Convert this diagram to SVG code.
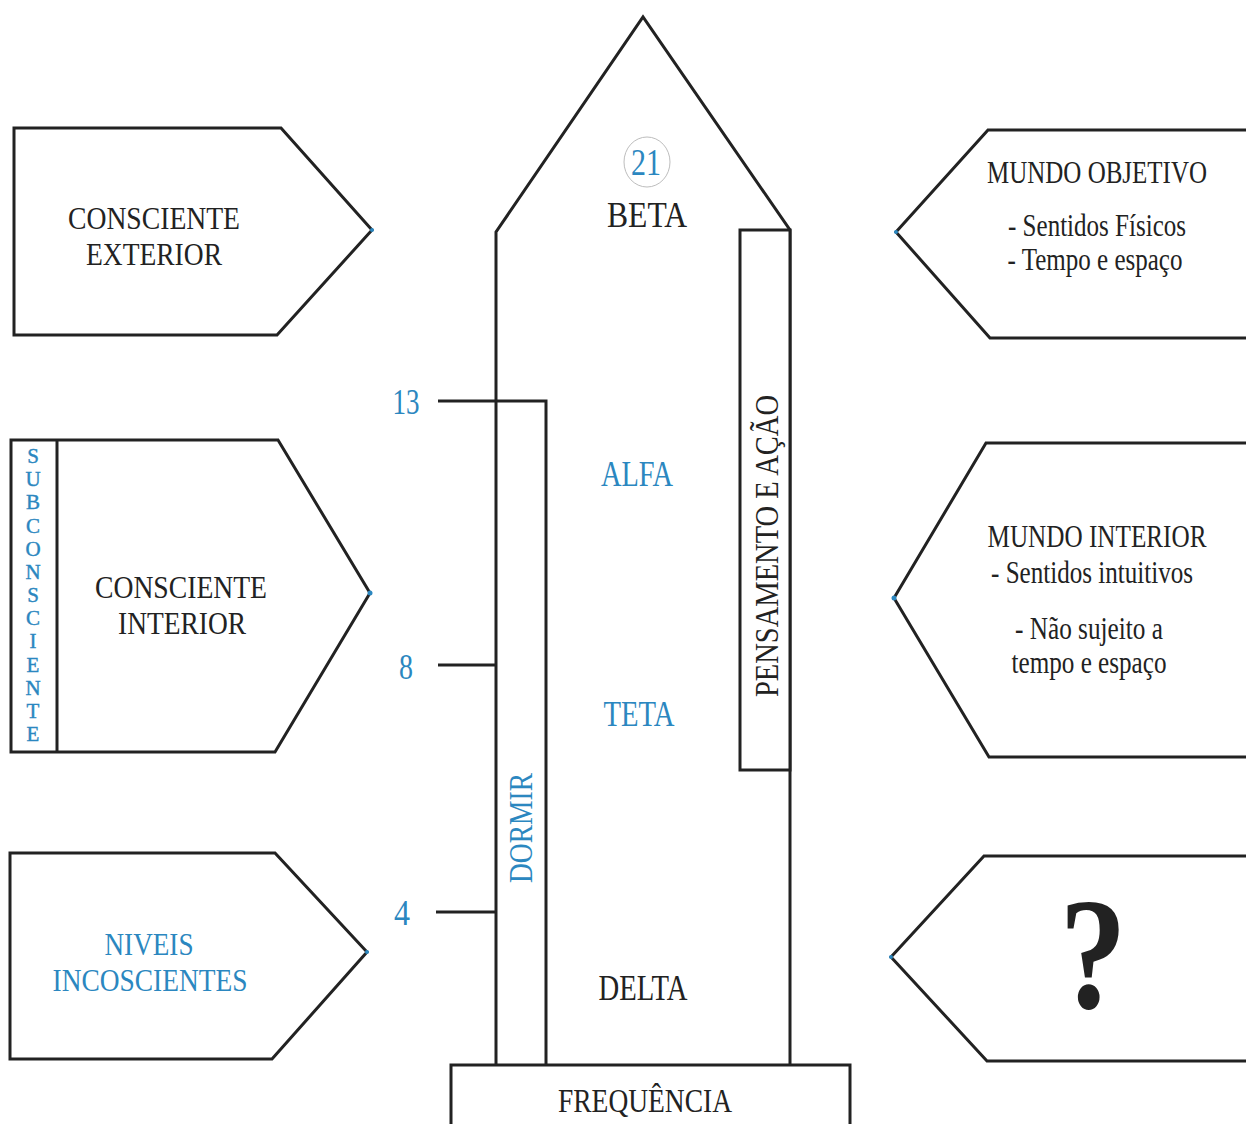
<svg xmlns="http://www.w3.org/2000/svg" width="1246" height="1124" viewBox="0 0 1246 1124">
  <style>
    .shape { fill: #ffffff; stroke: #222222; stroke-width: 3; stroke-linejoin: miter; }
    .line { fill: none; stroke: #222222; stroke-width: 3; }
    .txt { font-family: "Liberation Serif", "Times New Roman", serif; fill: #222222; text-anchor: middle; }
    .blue { fill: #2b87c0; }
    .tip { fill: #2b87c0; }
  </style>
  <rect width="1246" height="1124" fill="#ffffff"/>

  <!-- central tower -->
  <g id="tower">
    <path class="shape" d="M496,1065 L496,232 L643,17 L790,230 L790,1065"/>
    <ellipse cx="647" cy="162" rx="23" ry="25" fill="none" stroke="#bdbdbd" stroke-width="1"/>
    <text class="txt blue" x="646" y="175" font-size="38" textLength="30" lengthAdjust="spacingAndGlyphs">21</text>
    <text class="txt" x="647" y="227" font-size="35" textLength="80" lengthAdjust="spacingAndGlyphs">BETA</text>
    <text class="txt blue" x="637" y="486" font-size="36" textLength="72" lengthAdjust="spacingAndGlyphs">ALFA</text>
    <text class="txt blue" x="639" y="726" font-size="36" textLength="71" lengthAdjust="spacingAndGlyphs">TETA</text>
    <text class="txt" x="643" y="1000" font-size="35" textLength="89" lengthAdjust="spacingAndGlyphs">DELTA</text>
  </g>

  <!-- thought and action band -->
  <g id="pensamento">
    <rect class="shape" x="740" y="230" width="50" height="540"/>
    <text class="txt" transform="translate(778,546) rotate(-90)" font-size="34" textLength="302" lengthAdjust="spacingAndGlyphs">PENSAMENTO E AÇÃO</text>
  </g>

  <!-- sleep band -->
  <g id="dormir">
    <path class="line" d="M496,401 L546,401 L546,1065"/>
    <text class="txt blue" transform="translate(532,828) rotate(-90)" font-size="34" textLength="110" lengthAdjust="spacingAndGlyphs">DORMIR</text>
  </g>

  <!-- frequency base -->
  <g id="frequencia">
    <rect class="shape" x="451" y="1065" width="399" height="80"/>
    <text class="txt" x="645" y="1112" font-size="34" textLength="174" lengthAdjust="spacingAndGlyphs">FREQUÊNCIA</text>
  </g>

  <!-- frequency ticks -->
  <g id="connectors">
    <line class="line" x1="438" y1="401" x2="496" y2="401"/>
    <line class="line" x1="438" y1="665" x2="496" y2="665"/>
    <line class="line" x1="436" y1="912" x2="496" y2="912"/>
  </g>
  <g id="scale">
    <text class="txt blue" x="406" y="414" font-size="36" textLength="27" lengthAdjust="spacingAndGlyphs">13</text>
    <text class="txt blue" x="406" y="679" font-size="36" textLength="14" lengthAdjust="spacingAndGlyphs">8</text>
    <text class="txt blue" x="402" y="925" font-size="36" textLength="16" lengthAdjust="spacingAndGlyphs">4</text>
  </g>

  <!-- left column -->
  <g id="consciente-exterior">
    <path class="shape" d="M14,128 L281,128 L372,230 L277,335 L14,335 Z"/>
    <circle class="tip" cx="372" cy="230" r="2"/>
    <text class="txt" x="154" y="229" font-size="32" textLength="172" lengthAdjust="spacingAndGlyphs">CONSCIENTE</text>
    <text class="txt" x="154" y="265" font-size="32" textLength="136" lengthAdjust="spacingAndGlyphs">EXTERIOR</text>
  </g>

  <g id="consciente-interior">
    <path class="shape" d="M11,440 L278,440 L370,593 L275,752 L11,752 Z"/>
    <line class="line" x1="57" y1="440" x2="57" y2="752"/>
    <circle class="tip" cx="370" cy="593" r="2.5"/>
    <g class="txt blue" font-size="21" stroke="#2b87c0" stroke-width="0.4">
      <text x="33" y="463">S</text>
      <text x="33" y="486">U</text>
      <text x="33" y="509">B</text>
      <text x="33" y="533">C</text>
      <text x="33" y="556">O</text>
      <text x="33" y="579">N</text>
      <text x="33" y="602">S</text>
      <text x="33" y="625">C</text>
      <text x="33" y="648">I</text>
      <text x="33" y="672">E</text>
      <text x="33" y="695">N</text>
      <text x="33" y="718">T</text>
      <text x="33" y="741">E</text>
    </g>
    <text class="txt" x="181" y="598" font-size="32" textLength="172" lengthAdjust="spacingAndGlyphs">CONSCIENTE</text>
    <text class="txt" x="182" y="634" font-size="32" textLength="128" lengthAdjust="spacingAndGlyphs">INTERIOR</text>
  </g>

  <g id="niveis-inconscientes">
    <path class="shape" d="M10,853 L275,853 L367,952 L272,1059 L10,1059 Z"/>
    <circle class="tip" cx="367" cy="952" r="2"/>
    <text class="txt blue" x="149" y="955" font-size="32" textLength="89" lengthAdjust="spacingAndGlyphs">NIVEIS</text>
    <text class="txt blue" x="150" y="991" font-size="32" textLength="195" lengthAdjust="spacingAndGlyphs">INCOSCIENTES</text>
  </g>

  <!-- right column: condensed serif lines, stretched vertically -->
  <g id="mundo-objetivo">
    <path class="shape" d="M1246,130 L988,130 L896,232 L990,338 L1246,338"/>
    <circle class="tip" cx="896" cy="232" r="2"/>
    <text class="txt" transform="translate(1097,183) scale(1,1.15)" font-size="28" textLength="220" lengthAdjust="spacingAndGlyphs">MUNDO OBJETIVO</text>
    <text class="txt" transform="translate(1097,236) scale(1,1.12)" font-size="28" textLength="178" lengthAdjust="spacingAndGlyphs">- Sentidos Físicos</text>
    <text class="txt" transform="translate(1095,270) scale(1,1.12)" font-size="28" textLength="175" lengthAdjust="spacingAndGlyphs">- Tempo e espaço</text>
  </g>

  <g id="mundo-interior">
    <path class="shape" d="M1246,443 L986,443 L894,598 L989,757 L1246,757"/>
    <circle class="tip" cx="894" cy="598" r="2.5"/>
    <text class="txt" transform="translate(1097,547) scale(1,1.15)" font-size="28" textLength="219" lengthAdjust="spacingAndGlyphs">MUNDO INTERIOR</text>
    <text class="txt" transform="translate(1092,583) scale(1,1.12)" font-size="28" textLength="202" lengthAdjust="spacingAndGlyphs">- Sentidos intuitivos</text>
    <text class="txt" transform="translate(1089,639) scale(1,1.12)" font-size="28" textLength="148" lengthAdjust="spacingAndGlyphs">- Não sujeito a</text>
    <text class="txt" transform="translate(1089,673) scale(1,1.12)" font-size="28" textLength="155" lengthAdjust="spacingAndGlyphs">tempo e espaço</text>
  </g>

  <g id="desconhecido">
    <path class="shape" d="M1246,856 L984,856 L891,957 L987,1061 L1246,1061"/>
    <circle class="tip" cx="891" cy="957" r="2"/>
    <text class="txt" transform="translate(1093,1008) scale(0.85,1)" font-size="158" font-weight="bold">?</text>
  </g>
</svg>
